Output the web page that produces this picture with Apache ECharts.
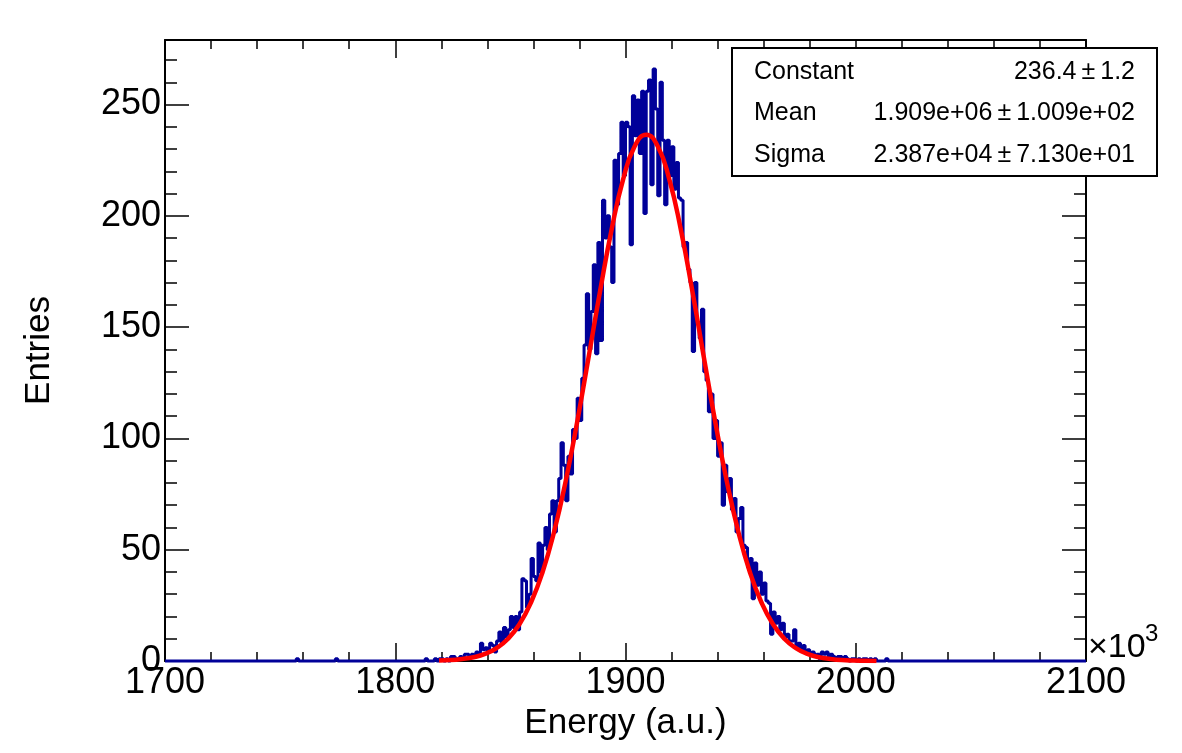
<!DOCTYPE html>
<html>
<head>
<meta charset="utf-8">
<script src="https://cdn.jsdelivr.net/npm/echarts@6/dist/echarts.min.js"></script>
<style>
html, body { margin: 0; padding: 0; background: #fff; }
#chart { width: 1182px; height: 753px; }
</style>
</head>
<body>
<div id="chart"></div>
<script>
// histogram, x in units of 10^3 a.u., bin width 1
const xMin = 1700, xMax = 2100, binWidth = 1;
const yMax = 279;

// counts, first bin starts at peakStart
const peakStart = 1812;
const peakCounts = [
  0, 1, 0, 0, 0, 1, 0, 1, 1, 0,
  1, 0, 2, 2, 1, 1, 2, 1, 3, 3,
  2, 3, 2, 4, 3, 8, 5, 6, 4, 8,
  7, 4, 9, 13, 8, 15, 11, 14, 20, 15,
  20, 14, 22, 37, 36, 24, 30, 46, 38, 36,
  53, 40, 52, 60, 50, 66, 72, 58, 72, 82,
  98, 88, 72, 92, 84, 104, 100, 118, 108, 127,
  142, 165, 140, 157, 178, 138, 188, 144, 207, 190,
  200, 186, 170, 225, 205, 228, 242, 218, 242, 240,
  187, 254, 236, 252, 228, 256, 201, 256, 261, 214,
  266, 248, 209, 260, 234, 205, 234, 218, 231, 212,
  224, 208, 207, 186, 188, 176, 170, 139, 170, 152,
  145, 158, 130, 126, 112, 120, 100, 108, 92, 98,
  70, 88, 76, 82, 68, 73, 58, 64, 69, 52,
  51, 42, 46, 28, 44, 34, 40, 30, 35, 27,
  26, 12, 22, 17, 20, 14, 17, 11, 12, 9,
  9, 14, 6, 8, 5, 7, 4, 5, 3, 4,
  2, 3, 1, 4, 3, 4, 2, 3, 2, 1,
  2, 2, 1, 2, 1, 0, 1, 1, 0, 1,
  0, 1, 1, 0, 1, 0, 1, 0, 0, 0,
  0, 1
];
// lone single entries far from the peak
const strayBins = [1757, 1774];

// gaussian fit
const fitX = [1819, 1824, 1829, 1834, 1839, 1844, 1849, 1854, 1859, 1864,
  1869, 1874, 1879, 1884, 1889, 1894, 1899, 1904, 1909, 1914,
  1919, 1924, 1929, 1934, 1939, 1944, 1949, 1954, 1959, 1964,
  1969, 1974, 1979, 1984, 1989, 1994, 1999, 2004, 2009];
const fitY = [0.2, 0.4, 0.9, 1.7, 3.2, 5.8, 10.0, 16.6, 26.4, 40.0,
  58.1, 80.7, 107.3, 136.6, 166.4, 194.0, 216.5, 231.3, 236.4, 231.3,
  216.5, 194.0, 166.4, 136.6, 107.3, 80.7, 58.1, 40.0, 26.4, 16.6,
  10.0, 5.8, 3.2, 1.7, 0.9, 0.4, 0.2, 0.1, 0.0];

const statNames = ['Constant', 'Mean', 'Sigma'];
const statValues = ['236.4\u2009\u00b1\u20091.2', '1.909e+06\u2009\u00b1\u20091.009e+02', '2.387e+04\u2009\u00b1\u20097.130e+01'];

// build the full bin list
const counts = [];
for (let e = xMin; e < xMax; e += binWidth) counts.push(0);
strayBins.forEach(b => { counts[(b - xMin) / binWidth] = 1; });
peakCounts.forEach((v, i) => { counts[(peakStart - xMin) / binWidth + i] = v; });
const histData = counts.map((v, i) => [xMin + i * binWidth, v]);
histData.push([xMax, counts[counts.length - 1]]);

const font = 'Liberation Sans, Arial, Helvetica, sans-serif';
const black = '#000';

function xAx(pos, labels) {
  return {
    type: 'value', position: pos, min: xMin, max: xMax, interval: 100,
    axisLine: { show: true, onZero: false, lineStyle: { color: black, width: 2 } },
    axisTick: { show: true, inside: true, length: 18, lineStyle: { color: black, width: 1.5 } },
    minorTick: { show: true, splitNumber: 5, length: 9, lineStyle: { color: black, width: 1.5 } },
    splitLine: { show: false },
    axisLabel: { show: labels, fontSize: 36, color: black, margin: 4, fontFamily: font,
      formatter: v => String(v) },
    name: labels ? 'Energy (a.u.)' : '',
    nameLocation: 'middle', nameGap: 42,
    nameTextStyle: { fontSize: 35, color: black, fontFamily: font }
  };
}

function yAx(pos, step, len, labels) {
  return {
    type: 'value', position: pos, min: 0, max: yMax, interval: step,
    axisLine: { show: step === 50, onZero: false, lineStyle: { color: black, width: 2 } },
    axisTick: { show: true, inside: true, length: len, lineStyle: { color: black, width: 1.5 } },
    splitLine: { show: false },
    axisLabel: { show: labels, fontSize: 36, color: black, margin: 4, fontFamily: font, showMaxLabel: false },
    name: labels ? 'Entries' : '',
    nameLocation: 'middle', nameGap: 108,
    nameTextStyle: { fontSize: 35, color: black, fontFamily: font }
  };
}

const chart = echarts.init(document.getElementById('chart'));

const graphics = [
  { type: 'rect', z: 100, shape: { x: 732, y: 48, width: 425, height: 128 },
    style: { fill: '#fff', stroke: black, lineWidth: 2 } }
];
statNames.forEach((n, i) => {
  const y = 72 + i * 41.5;
  graphics.push({ type: 'text', z: 101, x: 754, y: y,
    style: { text: n, fontSize: 25, fontFamily: font, fill: black, textAlign: 'left', textVerticalAlign: 'middle' } });
  graphics.push({ type: 'text', z: 101, x: 1135, y: y,
    style: { text: statValues[i], fontSize: 25, fontFamily: font, fill: black, textAlign: 'right', textVerticalAlign: 'middle' } });
});
graphics.push({ type: 'text', z: 101, x: 1088, y: 665,
  style: { text: '\u00d710', fontSize: 34, fontFamily: font, fill: black, textAlign: 'left', textVerticalAlign: 'bottom' } });
graphics.push({ type: 'text', z: 101, x: 1145, y: 622,
  style: { text: '3', fontSize: 24, fontFamily: font, fill: black, textAlign: 'left', textVerticalAlign: 'top' } });

chart.setOption({
  animation: false,
  backgroundColor: '#fff',
  textStyle: { fontFamily: font },
  grid: { left: 165, right: 96, top: 40, bottom: 92, containLabel: false },
  xAxis: [xAx('bottom', true), xAx('top', false)],
  yAxis: [yAx('left', 50, 24, true), yAx('left', 10, 12, false), yAx('right', 50, 24, false), yAx('right', 10, 12, false)],
  series: [
    {
      name: 'Energy', type: 'line', step: 'end', data: histData,
      symbol: 'none', clip: false,
      lineStyle: { color: '#000099', width: 3 }, z: 3
    },
    {
      name: 'fit', type: 'line', smooth: 0.5,
      data: fitX.map((x, i) => [x, fitY[i]]),
      symbol: 'none',
      lineStyle: { color: '#ff0000', width: 4.5 }, z: 4
    }
  ],
  graphic: graphics
});
</script>
</body>
</html>
